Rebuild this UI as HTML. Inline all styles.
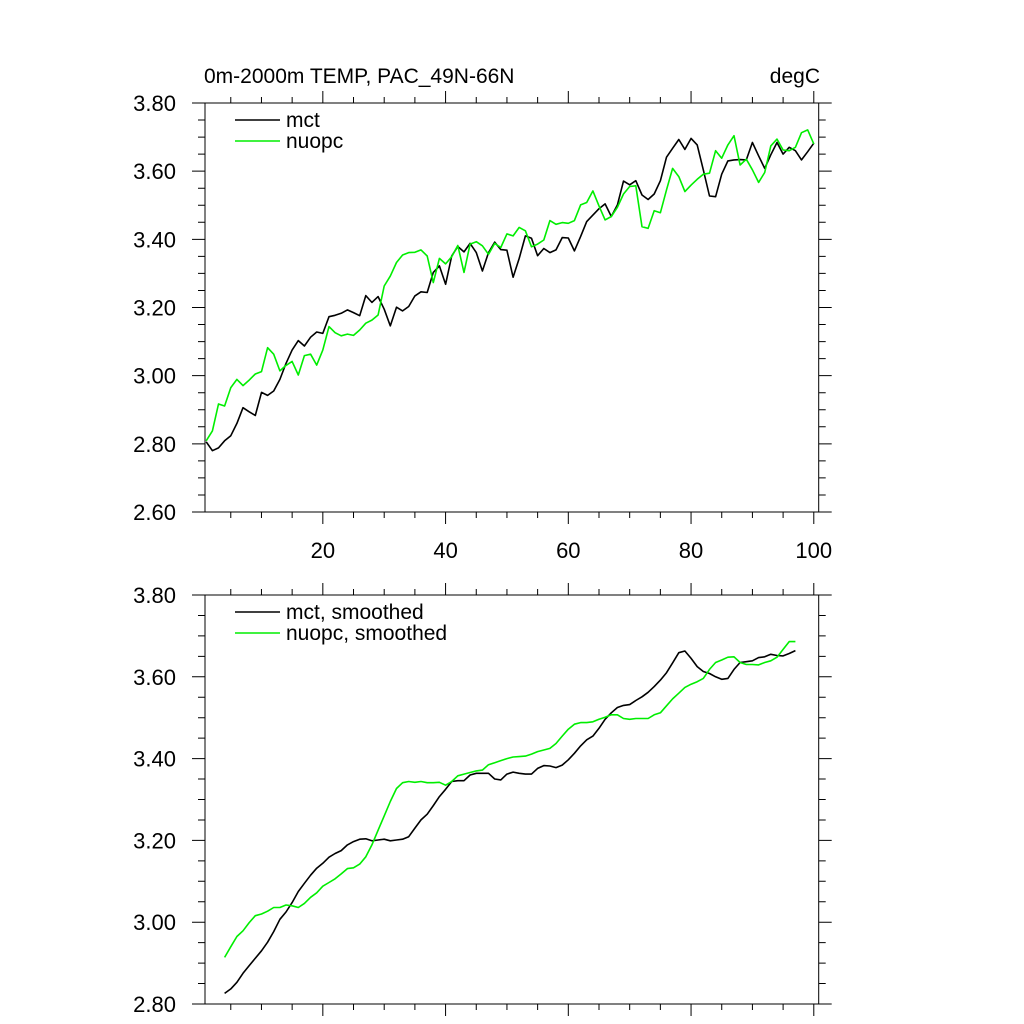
<!DOCTYPE html>
<html><head><meta charset="utf-8"><style>
html,body{margin:0;padding:0;background:#fff;}
svg{display:block;font-family:"Liberation Sans",Arial,sans-serif;}
</style></head><body>
<svg id="chart" width="1024" height="1024" viewBox="0 0 1024 1024" xmlns="http://www.w3.org/2000/svg">
<text x="204" y="83" font-size="21">0m-2000m TEMP, PAC_49N-66N</text>
<text x="820" y="83" font-size="21" text-anchor="end">degC</text>
<g id="top"></g>
<g id="bot"></g>
</svg>
<script>
const rawMct = [2.806,2.780,2.788,2.809,2.824,2.860,2.906,2.894,2.883,2.951,2.942,2.955,2.989,3.036,3.075,3.103,3.087,3.113,3.128,3.124,3.173,3.177,3.183,3.193,3.185,3.176,3.235,3.215,3.232,3.195,3.146,3.201,3.190,3.203,3.234,3.246,3.244,3.303,3.322,3.268,3.351,3.379,3.363,3.388,3.361,3.307,3.361,3.392,3.370,3.368,3.289,
3.344,3.41,3.403,3.352,3.373,3.361,3.369,3.405,3.404,3.366,3.408,3.452,3.471,3.490,3.504,3.467,3.501,3.571,3.560,3.572,3.530,3.517,3.533,3.572,3.641,3.667,3.693,3.664,3.696,3.677,3.604,3.527,3.525,3.591,3.630,3.633,3.634,3.633,3.684,3.645,3.608,3.648,3.684,3.650,3.670,3.660,3.633,3.657,3.682];
const rawNuopc = [2.809,2.838,2.917,2.911,2.965,2.989,2.971,2.987,3.005,3.012,3.082,3.063,3.014,3.030,3.042,3.002,3.059,3.063,3.031,3.075,3.144,3.126,3.117,3.122,3.118,3.134,3.154,3.163,3.178,3.263,3.292,3.332,3.354,3.361,3.362,3.369,3.351,3.273,3.344,3.328,3.349,3.382,3.303,3.386,3.393,3.381,3.356,3.388,3.376,3.416,3.410,
3.435,3.425,3.378,3.386,3.398,3.455,3.444,3.449,3.447,3.455,3.501,3.508,3.542,3.498,3.457,3.467,3.494,3.533,3.555,3.557,3.437,3.432,3.484,3.478,3.545,3.608,3.584,3.540,3.559,3.576,3.591,3.594,3.660,3.638,3.677,3.704,3.618,3.635,3.604,3.567,3.596,3.674,3.694,3.662,3.660,3.670,3.713,3.721,3.680];
const smoothStart = 4;
const smMct = [2.826,2.837,2.853,2.875,2.894,2.912,2.930,2.951,2.977,3.007,3.025,3.048,3.075,3.095,3.115,3.132,3.144,3.159,3.168,3.175,3.189,3.197,3.203,3.204,3.199,3.201,3.203,3.199,3.201,3.203,3.209,3.230,3.250,3.264,3.285,3.307,3.325,3.344,3.346,3.346,3.360,3.364,3.364,3.364,3.350,3.348,3.362,3.367,
3.364,3.362,3.362,3.376,3.383,3.382,3.378,3.384,3.397,3.413,3.431,3.446,3.455,3.474,3.496,3.512,3.525,3.530,3.532,3.542,3.551,3.562,3.576,3.592,3.610,3.634,3.659,3.663,3.645,3.625,3.613,3.608,3.600,3.594,3.596,3.618,3.635,3.637,3.639,3.647,3.649,3.655,3.652,3.651,3.657,3.664];
const smNuopc = [2.914,2.940,2.965,2.979,2.999,3.016,3.020,3.027,3.036,3.036,3.042,3.040,3.036,3.046,3.061,3.072,3.088,3.097,3.106,3.118,3.131,3.133,3.142,3.160,3.189,3.225,3.260,3.295,3.327,3.341,3.344,3.342,3.344,3.341,3.341,3.342,3.335,3.344,3.358,3.362,3.366,3.370,3.372,3.385,3.390,3.395,3.400,3.404,
3.405,3.406,3.411,3.417,3.421,3.425,3.437,3.455,3.472,3.484,3.488,3.488,3.490,3.496,3.501,3.507,3.507,3.498,3.496,3.498,3.498,3.498,3.507,3.512,3.529,3.546,3.560,3.574,3.582,3.588,3.596,3.618,3.635,3.641,3.648,3.649,3.635,3.630,3.630,3.629,3.635,3.639,3.648,3.667,3.686,3.686];
const xTickLabels = [20,40,60,80,100];
const topYTicks = [2.6,2.8,3.0,3.2,3.4,3.6,3.8];
const botYTicks = [2.8,3.0,3.2,3.4,3.6,3.8];

const NS='http://www.w3.org/2000/svg';
function mk(tag, attrs, parent){const e=document.createElementNS(NS,tag);for(const k in attrs)e.setAttribute(k,attrs[k]);parent.appendChild(e);return e;}

function panel(g, top, bottom, ymin, ymax, series, legend, showXLabels){
  const L=205, R=818.7, xmin=0.8, xmax=100.8;
  const X=v=>L+(v-xmin)/(xmax-xmin)*(R-L);
  const Y=v=>bottom-(v-ymin)/(ymax-ymin)*(bottom-top);
  const box=mk('rect',{x:L,y:top,width:R-L,height:bottom-top,fill:'none',stroke:'#000','stroke-width':1},g);
  
  
  let d='';
  for(let v=5; v<=100; v+=5){
    const px=X(v), len=(v%20===0)?12:6;
    d+=`M${px},${bottom}v${len}M${px},${top}v${-len}`;
  }
  for(let v=ymin; v<=ymax+1e-9; v+=0.05){
    const py=Y(v), maj=Math.abs(Math.round(v*5)-v*5)<1e-6, len=maj?13:7;
    d+=`M${L},${py}h${-len}M${R},${py}h${len}`;
  }
  const ticks=mk('path',{d:d,stroke:'#000','stroke-width':1,fill:'none'},g);
  
  
  const yt = ymin===2.6?topYTicks:botYTicks;
  yt.forEach(v=>{
    const t=mk('text',{x:176,y:Y(v)+8,'font-size':22,'text-anchor':'end'},g);
    t.textContent=v.toFixed(2);
    
    
  });
  if(showXLabels){
    xTickLabels.forEach(v=>{
      const t=mk('text',{x:X(v),y:bottom+46,'font-size':22,'text-anchor':'middle'},g);
      t.textContent=v;
      
      
    });
  }
  series.forEach((s,si)=>{
    const pts=s.vals.map((v,i)=>X(s.start+i).toFixed(1)+','+Y(v).toFixed(1)).join(' ');
    const pl=mk('polyline',{points:pts,fill:'none',stroke:s.color,'stroke-width':1.6,'stroke-linejoin':'round'},g);
    
    
    const ly=legend+si*21;
    const ll=mk('line',{x1:235,x2:280,y1:ly,y2:ly,stroke:s.color,'stroke-width':1.6},g);
    
    
    const lt=mk('text',{x:286,y:ly+7,'font-size':21},g);
    lt.textContent=s.label;
    
    
  });
}
panel(document.getElementById('top'),103,512,2.6,3.8,[
  {vals:rawMct,start:1,color:'#000',name:'mct',label:'mct'},
  {vals:rawNuopc,start:1,color:'#00ee00',name:'nuopc',label:'nuopc'}],120,true);
panel(document.getElementById('bot'),595,1004,2.8,3.8,[
  {vals:smMct,start:smoothStart,color:'#000',name:'mct-smoothed',label:'mct, smoothed'},
  {vals:smNuopc,start:smoothStart,color:'#00ee00',name:'nuopc-smoothed',label:'nuopc, smoothed'}],612,false);
</script>
</body></html>
